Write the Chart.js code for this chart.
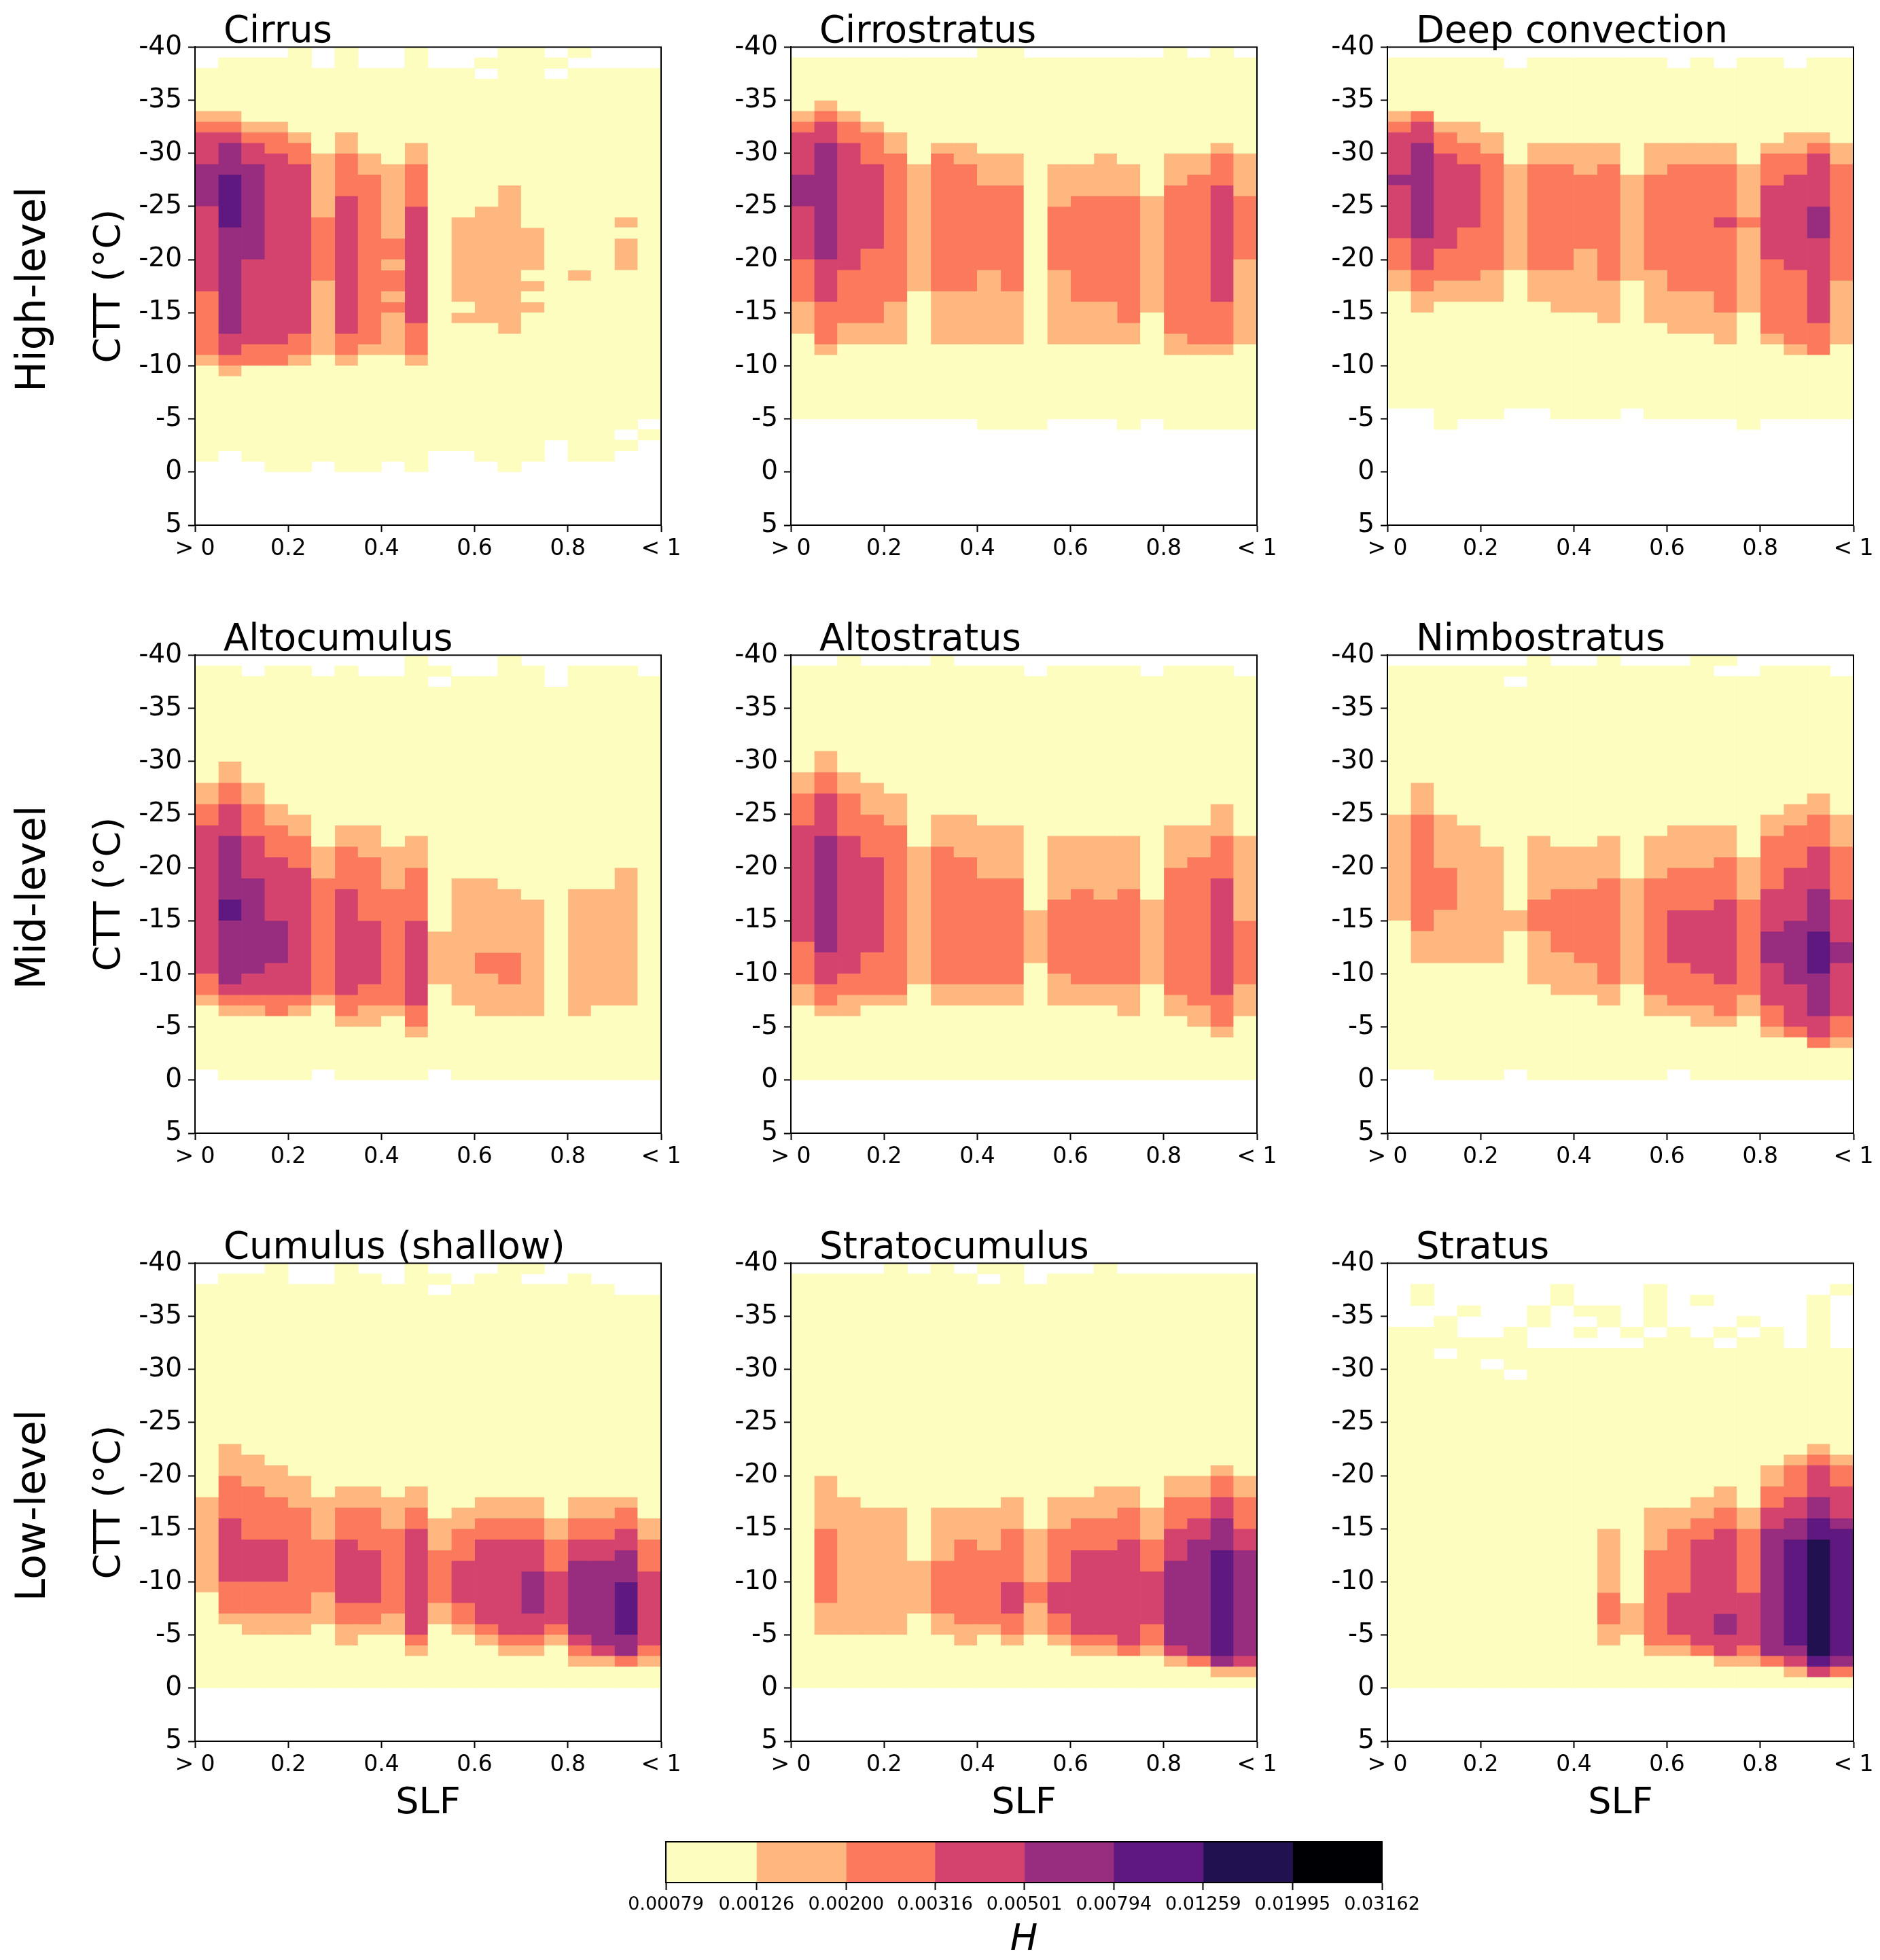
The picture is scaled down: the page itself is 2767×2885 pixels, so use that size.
<!DOCTYPE html>
<html>
<head>
<meta charset="utf-8">
<title>CTT vs SLF</title>
<script src="https://cdn.jsdelivr.net/npm/chart.js@4/dist/chart.umd.js"></script>
<style>
  html, body { margin: 0; padding: 0; background: #fff; }
  #page { position: relative; width: 2767px; height: 2885px; overflow: hidden; font-family: "DejaVu Sans", sans-serif; color: #000; }
  canvas { position: absolute; }
  .panelTitle { position: absolute; font-size: 54.5px; line-height: 1; white-space: nowrap; }
  .rowLabel { position: absolute; font-size: 60px; line-height: 1; white-space: nowrap; transform: translate(-50%, -50%) rotate(-90deg); }
</style>
</head>
<body>
<div id="page"></div>
<script>
// each column (SLF bin) is a list of: CTT where a band starts, band number. band 0 = no data
const cirrus = [
  [-38,1,-34,2,-33,3,-32,4,-29,5,-25,4,-17,3,-11,2,-10,1,-1,0],
  [-39,1,-34,2,-33,3,-32,4,-31,5,-28,6,-23,5,-13,4,-11,3,-10,2,-9,1,-2,0],
  [-39,1,-33,2,-32,3,-31,4,-29,5,-20,4,-12,3,-10,1,-1,0],
  [-39,1,-33,2,-32,3,-30,4,-12,3,-10,1,0,0],
  [-40,1,-32,2,-31,3,-29,4,-13,3,-11,2,-10,1,0,0],
  [-38,1,-30,2,-24,3,-18,2,-11,1,-1,0],
  [-40,1,-32,2,-30,3,-26,4,-13,3,-11,2,-10,1,0,0],
  [-38,1,-30,2,-28,3,-12,2,-11,1,0,0],
  [-38,1,-29,2,-22,3,-20,2,-19,3,-17,2,-16,3,-15,2,-11,1,-1,0],
  [-40,1,-31,2,-29,3,-25,4,-14,3,-11,2,-10,1,0,0],
  [-38,1,-2,0],
  [-38,1,-24,2,-16,1,-15,2,-14,1,-2,0],
  [-39,1,-38,0,-37,1,-25,2,-14,1,-1,0],
  [-40,1,-27,2,-13,1,0,0],
  [-40,1,-23,2,-19,1,-18,2,-17,1,-16,2,-15,1,-1,0],
  [-39,1,-38,0,-37,1,-3,0],
  [-40,1,-39,0,-38,1,-19,2,-18,1,-1,0],
  [-38,1,-1,0],
  [-38,1,-24,2,-23,1,-22,2,-19,1,-4,0,-3,1,-2,0],
  [-38,1,-5,0,-4,1,-3,0]
];
const cirrostratus = [
  [-39,1,-34,2,-33,3,-32,4,-28,5,-25,4,-20,3,-16,2,-13,1,-5,0],
  [-39,1,-35,2,-34,3,-33,4,-31,5,-20,4,-16,3,-12,2,-11,1,-5,0],
  [-39,1,-34,2,-33,3,-31,4,-19,3,-14,2,-12,1,-5,0],
  [-39,1,-33,2,-32,3,-29,4,-21,3,-14,2,-12,1,-5,0],
  [-39,1,-32,2,-30,3,-16,2,-12,1,-5,0],
  [-39,1,-29,2,-17,1,-5,0],
  [-39,1,-31,2,-30,3,-17,2,-12,1,-5,0],
  [-39,1,-31,2,-29,3,-17,2,-12,1,-5,0],
  [-40,1,-30,2,-27,3,-19,2,-12,1,-4,0],
  [-40,1,-30,2,-27,3,-17,2,-12,1,-4,0],
  [-39,1,-4,0],
  [-39,1,-29,2,-25,3,-19,2,-12,1,-5,0],
  [-39,1,-29,2,-26,3,-16,2,-12,1,-5,0],
  [-39,1,-30,2,-26,3,-16,2,-12,1,-5,0],
  [-39,1,-29,2,-26,3,-14,2,-12,1,-4,0],
  [-39,1,-26,2,-15,1,-5,0],
  [-40,1,-30,2,-27,3,-13,2,-11,1,-4,0],
  [-39,1,-30,2,-28,3,-12,2,-11,1,-4,0],
  [-40,1,-31,2,-30,3,-27,4,-16,3,-12,2,-11,1,-4,0],
  [-39,1,-30,2,-26,3,-20,2,-12,1,-4,0]
];
const deepConvection = [
  [-39,1,-34,2,-33,3,-32,4,-28,5,-27,4,-22,3,-19,2,-17,1,-6,0],
  [-39,1,-34,3,-33,4,-31,5,-22,4,-19,3,-17,2,-15,1,-6,0],
  [-39,1,-33,2,-32,3,-30,4,-21,3,-18,2,-16,1,-4,0],
  [-39,1,-33,2,-31,3,-29,4,-23,3,-18,2,-16,1,-5,0],
  [-39,1,-32,2,-30,3,-19,2,-16,1,-5,0],
  [-38,1,-29,2,-19,1,-6,0],
  [-39,1,-31,2,-29,3,-19,2,-16,1,-6,0],
  [-39,1,-31,2,-29,3,-19,2,-15,1,-5,0],
  [-39,1,-31,2,-28,3,-21,2,-15,1,-5,0],
  [-39,1,-31,2,-29,3,-18,2,-14,1,-5,0],
  [-39,1,-28,2,-18,1,-6,0],
  [-39,1,-31,2,-28,3,-19,2,-14,1,-5,0],
  [-38,1,-31,2,-29,3,-17,2,-13,1,-5,0],
  [-39,1,-31,2,-29,3,-17,2,-13,1,-5,0],
  [-38,1,-31,2,-29,3,-24,4,-23,3,-15,2,-12,1,-5,0],
  [-39,1,-29,2,-24,3,-23,2,-15,1,-4,0],
  [-39,1,-31,2,-30,3,-27,4,-20,3,-13,2,-12,1,-5,0],
  [-38,1,-32,2,-30,3,-28,4,-19,3,-12,2,-11,1,-5,0],
  [-39,1,-32,2,-31,3,-30,4,-25,5,-22,4,-14,3,-11,1,-5,0],
  [-39,1,-31,2,-29,3,-18,2,-12,1,-5,0]
];
const altocumulus = [
  [-39,1,-28,2,-26,3,-24,4,-10,3,-8,2,-7,1,-1,0],
  [-39,1,-30,2,-28,3,-26,4,-23,5,-17,6,-15,5,-9,4,-8,3,-7,2,-6,1,0,0],
  [-38,1,-28,2,-26,3,-23,4,-19,5,-10,4,-8,3,-7,2,-6,1,0,0],
  [-39,1,-26,2,-24,3,-21,4,-15,5,-11,4,-8,3,-6,1,0,0],
  [-39,1,-25,2,-23,3,-20,4,-8,3,-7,2,-6,1,0,0],
  [-38,1,-22,2,-19,3,-8,2,-7,1,-1,0],
  [-39,1,-24,2,-22,3,-18,4,-8,3,-6,2,-5,1,0,0],
  [-38,1,-24,2,-21,3,-15,4,-9,3,-7,2,-5,1,0,0],
  [-38,1,-22,2,-18,3,-7,2,-6,1,0,0],
  [-40,1,-23,2,-20,3,-15,4,-7,3,-5,2,-4,1,0,0],
  [-39,1,-38,0,-37,1,-14,2,-9,1,-1,0],
  [-38,1,-19,2,-7,1,0,0],
  [-38,1,-19,2,-12,3,-10,2,-6,1,0,0],
  [-40,1,-18,2,-12,3,-9,2,-6,1,0,0],
  [-39,1,-17,2,-6,1,0,0],
  [-37,1,0,0],
  [-39,1,-18,2,-6,1,0,0],
  [-39,1,-18,2,-7,1,0,0],
  [-39,1,-20,2,-7,1,0,0],
  [-38,1,0,0]
];
const altostratus = [
  [-39,1,-29,2,-27,3,-24,4,-13,3,-9,2,-7,1,0,0],
  [-39,1,-31,2,-29,3,-27,4,-23,5,-12,4,-9,3,-7,2,-6,1,0,0],
  [-40,1,-29,2,-27,3,-23,4,-10,3,-8,2,-6,1,0,0],
  [-39,1,-28,2,-25,3,-21,4,-12,3,-8,2,-7,1,0,0],
  [-39,1,-27,2,-24,3,-8,2,-7,1,0,0],
  [-39,1,-22,2,-9,1,0,0],
  [-40,1,-25,2,-22,3,-9,2,-7,1,0,0],
  [-39,1,-25,2,-21,3,-9,2,-7,1,0,0],
  [-39,1,-24,2,-19,3,-9,2,-7,1,0,0],
  [-39,1,-24,2,-19,3,-9,2,-7,1,0,0],
  [-38,1,-16,2,-11,1,0,0],
  [-39,1,-23,2,-17,3,-10,2,-7,1,0,0],
  [-39,1,-23,2,-18,3,-9,2,-7,1,0,0],
  [-39,1,-23,2,-17,3,-9,2,-7,1,0,0],
  [-39,1,-23,2,-18,3,-9,2,-6,1,0,0],
  [-38,1,-17,2,-9,1,0,0],
  [-39,1,-24,2,-20,3,-8,2,-6,1,0,0],
  [-39,1,-24,2,-21,3,-7,2,-5,1,0,0],
  [-39,1,-26,2,-23,3,-19,4,-8,3,-5,2,-4,1,0,0],
  [-38,1,-23,2,-15,3,-9,2,-6,1,0,0]
];
const nimbostratus = [
  [-39,1,-25,2,-15,1,-1,0],
  [-39,1,-28,2,-25,3,-14,2,-11,1,-1,0],
  [-39,1,-25,2,-20,3,-16,2,-11,1,0,0],
  [-39,1,-24,2,-11,1,0,0],
  [-39,1,-22,2,-11,1,0,0],
  [-39,1,-38,0,-37,1,-16,2,-14,1,-1,0],
  [-40,1,-23,2,-17,3,-14,2,-9,1,0,0],
  [-39,1,-22,2,-18,3,-12,2,-8,1,0,0],
  [-39,1,-22,2,-18,3,-11,2,-8,1,0,0],
  [-40,1,-23,2,-19,3,-9,2,-7,1,0,0],
  [-39,1,-19,2,-9,1,0,0],
  [-39,1,-23,2,-19,3,-8,2,-6,1,0,0],
  [-39,1,-24,2,-20,3,-16,4,-11,3,-7,2,-6,1,-1,0],
  [-40,1,-24,2,-20,3,-16,4,-10,3,-7,2,-5,1,0,0],
  [-40,1,-39,0,-38,1,-24,2,-21,3,-17,4,-9,3,-6,2,-5,1,0,0],
  [-38,1,-21,2,-17,3,-8,2,-6,1,0,0],
  [-39,1,-25,2,-23,3,-18,4,-14,5,-11,4,-7,3,-5,2,-4,1,0,0],
  [-39,1,-26,2,-24,3,-20,4,-15,5,-9,4,-5,3,-4,1,0,0],
  [-39,1,-27,2,-25,3,-22,4,-18,5,-14,6,-10,5,-6,4,-4,3,-3,1,0,0],
  [-38,1,-25,2,-22,3,-17,4,-13,5,-11,4,-6,3,-4,2,-3,1,0,0]
];
const cumulusShallow = [
  [-38,1,-18,2,-9,1,0,0],
  [-39,1,-23,2,-20,3,-16,4,-10,3,-7,2,-6,1,0,0],
  [-39,1,-22,2,-19,3,-14,4,-10,3,-7,2,-5,1,0,0],
  [-40,1,-21,2,-18,3,-14,4,-10,3,-7,2,-5,1,0,0],
  [-38,1,-20,2,-17,3,-7,2,-5,1,0,0],
  [-38,1,-18,2,-14,3,-9,2,-6,1,0,0],
  [-40,1,-19,2,-17,3,-14,4,-8,3,-6,2,-4,1,0,0],
  [-39,1,-19,2,-17,3,-13,4,-8,3,-6,2,-5,1,0,0],
  [-38,1,-18,2,-15,3,-7,2,-5,1,0,0],
  [-40,1,-19,2,-17,3,-15,4,-5,3,-4,2,-3,1,0,0],
  [-39,1,-38,0,-37,1,-16,2,-13,3,-8,2,-6,1,0,0],
  [-38,1,-17,2,-15,3,-12,4,-8,3,-6,2,-5,1,0,0],
  [-39,1,-18,2,-16,3,-14,4,-6,3,-5,2,-4,1,0,0],
  [-40,1,-18,2,-16,3,-14,4,-5,3,-4,2,-3,1,0,0],
  [-40,1,-39,0,-38,1,-18,2,-16,3,-14,4,-11,5,-7,4,-5,3,-4,2,-3,1,0,0],
  [-38,1,-16,2,-14,3,-11,4,-6,3,-5,2,-4,1,0,0],
  [-39,1,-18,2,-16,3,-14,4,-12,5,-5,4,-4,3,-3,2,-2,1,0,0],
  [-38,1,-18,2,-16,3,-14,4,-12,5,-4,4,-3,2,-2,1,0,0],
  [-37,1,-18,2,-17,3,-15,4,-13,5,-10,6,-5,5,-3,3,-2,1,0,0],
  [-37,1,-16,2,-14,3,-11,4,-4,3,-3,2,-2,1,0,0]
];
const stratocumulus = [
  [-39,1,0,0],
  [-39,1,-20,2,-15,3,-8,2,-5,1,0,0],
  [-39,1,-18,2,-5,1,0,0],
  [-39,1,-17,2,-5,1,0,0],
  [-40,1,-17,2,-5,1,0,0],
  [-39,1,-12,2,-7,1,0,0],
  [-40,1,-17,2,-12,3,-7,2,-5,1,0,0],
  [-39,1,-17,2,-14,3,-6,2,-4,1,0,0],
  [-40,1,-39,0,-38,1,-17,2,-13,3,-6,2,-5,1,0,0],
  [-40,1,-18,2,-15,3,-10,4,-7,3,-5,2,-4,1,0,0],
  [-38,1,-15,2,-10,3,-8,2,-5,1,0,0],
  [-39,1,-18,2,-15,3,-10,4,-7,3,-5,2,-4,1,0,0],
  [-39,1,-18,2,-16,3,-13,4,-5,3,-4,2,-3,1,0,0],
  [-40,1,-19,2,-16,3,-13,4,-5,3,-4,2,-3,1,0,0],
  [-39,1,-19,2,-17,3,-14,4,-4,3,-3,1,0,0],
  [-39,1,-17,2,-14,3,-11,4,-6,3,-4,2,-3,1,0,0],
  [-39,1,-20,2,-18,3,-15,4,-12,5,-4,4,-3,2,-2,1,0,0],
  [-39,1,-20,2,-18,3,-16,4,-14,5,-3,3,-2,1,0,0],
  [-39,1,-21,2,-20,3,-18,4,-16,5,-13,6,-3,5,-2,2,-1,1,0,0],
  [-39,1,-20,2,-18,3,-15,4,-13,5,-3,4,-2,2,-1,1,0,0]
];
const stratus = [
  [-34,1,0,0],
  [-38,1,-36,0,-34,1,0,0],
  [-35,1,-32,0,-31,1,0,0],
  [-36,1,-35,0,-33,1,0,0],
  [-33,1,-31,0,-30,1,0,0],
  [-34,1,-30,0,-29,1,0,0],
  [-36,1,-34,0,-32,1,0,0],
  [-38,1,-36,0,-32,1,0,0],
  [-36,1,-35,0,-34,1,-33,0,-32,1,0,0],
  [-36,1,-34,0,-32,1,-15,2,-9,3,-6,2,-4,1,0,0],
  [-34,1,-33,0,-32,1,-8,2,-5,1,0,0],
  [-38,1,-34,0,-33,1,-17,2,-13,3,-4,2,-3,1,0,0],
  [-34,1,-17,2,-15,3,-9,4,-5,3,-4,2,-3,1,0,0],
  [-37,1,-36,0,-33,1,-18,2,-16,3,-14,4,-4,3,-3,1,0,0],
  [-34,1,-33,0,-32,1,-19,2,-17,3,-15,4,-7,5,-5,4,-3,2,-2,1,0,0],
  [-35,1,-34,0,-33,1,-17,2,-15,3,-9,4,-4,3,-3,2,-2,1,0,0],
  [-34,1,-21,2,-19,3,-17,4,-15,5,-3,3,-2,1,0,0],
  [-32,1,-22,2,-21,3,-18,4,-16,5,-14,6,-4,5,-3,4,-2,2,-1,1,0,0],
  [-37,1,-23,2,-22,3,-21,4,-18,5,-16,6,-14,7,-3,6,-2,4,-1,1,0,0],
  [-38,1,-37,0,-32,1,-22,2,-21,3,-19,4,-16,5,-15,6,-3,5,-2,3,-1,1,0,0]
];

const panelTitles = ["Cirrus", "Cirrostratus", "Deep convection", "Altocumulus", "Altostratus", "Nimbostratus", "Cumulus (shallow)", "Stratocumulus", "Stratus"];
const panelData = [cirrus, cirrostratus, deepConvection, altocumulus, altostratus, nimbostratus, cumulusShallow, stratocumulus, stratus];
const rowLabels = ["High-level", "Mid-level", "Low-level"];
const bandEdges = [0.00079, 0.00126, 0.002, 0.00316, 0.00501, 0.00794, 0.01259, 0.01995, 0.03162];
const bandColors = ["#fcfdbf", "#feb87f", "#fb7a5d", "#d3436e", "#982d80", "#5f187f", "#221150", "#000004"];

const panelLefts = [287, 1164, 2042];
const panelTops = [67, 962, 1857];
const panelW = 686, panelH = 706;
const binWidth = 0.05;

const page = document.getElementById("page");
const fontName = "'DejaVu Sans', sans-serif";

// closes the axes box, chart.js only draws the left and bottom lines
const framePlugin = {
  id: "frame",
  afterDraw(chart) {
    const a = chart.chartArea, c = chart.ctx;
    c.save();
    c.strokeStyle = "#000";
    c.lineWidth = 2;
    c.strokeRect(a.left, a.top, a.right - a.left, a.bottom - a.top);
    c.restore();
  }
};

function addCanvas(left, top, w, h) {
  const cv = document.createElement("canvas");
  cv.width = w;
  cv.height = h;
  cv.style.left = left + "px";
  cv.style.top = top + "px";
  cv.style.width = w + "px";
  cv.style.height = h + "px";
  page.appendChild(cv);
  return cv;
}

// one dataset per band, each run in a column is a floating bar
function columnsToDatasets(columns) {
  const datasets = bandColors.map(function (color) {
    return { data: [], backgroundColor: color, grouped: false, barPercentage: 1, categoryPercentage: 1, borderWidth: 0 };
  });
  columns.forEach(function (steps, col) {
    for (let i = 0; i + 2 < steps.length; i += 2) {
      const band = steps[i + 1];
      if (band > 0) {
        datasets[band - 1].data.push({ x: (col + 0.5) * binWidth, y: [steps[i], steps[i + 2]] });
      }
    }
  });
  return datasets.filter(function (d) { return d.data.length > 0; });
}

function drawPanel(index) {
  const col = index % 3, row = Math.floor(index / 3);
  const ctx = addCanvas(panelLefts[col] - 160, panelTops[row] - 30, 906, 860);
  new Chart(ctx, {
    type: "bar",
    data: { datasets: columnsToDatasets(panelData[index]) },
    plugins: [framePlugin],
    options: {
      responsive: false,
      animation: false,
      layout: { padding: { left: 0, right: 60, top: 30, bottom: 0 } },
      plugins: { legend: { display: false }, tooltip: { enabled: false }, title: { display: false } },
      scales: {
        x: {
          type: "linear",
          min: 0,
          max: 1,
          offset: false,
          afterFit: function (s) { s.height = 124; },
          grid: { offset: false, drawOnChartArea: false, tickLength: 10, tickWidth: 2, tickColor: "#000" },
          border: { color: "#000", width: 2 },
          ticks: {
            stepSize: 0.2,
            autoSkip: false,
            maxRotation: 0,
            padding: 6,
            color: "#000",
            font: { family: fontName, size: 33 },
            callback: function (v) {
              if (v === 0) return "> 0";
              if (v === 1) return "< 1";
              return v.toFixed(1);
            }
          },
          title: { display: row === 2, text: "SLF", color: "#000", font: { family: fontName, size: 54 }, padding: 0 }
        },
        y: {
          reverse: true,
          min: -40,
          max: 5,
          afterFit: function (s) { s.width = 160; },
          grid: { drawOnChartArea: false, tickLength: 10, tickWidth: 2, tickColor: "#000" },
          border: { color: "#000", width: 2 },
          ticks: { stepSize: 5, padding: 9, color: "#000", font: { family: fontName, size: 39 }, callback: function (v) { return String(v); } },
          title: { display: col === 0, text: "CTT (°C)", color: "#000", font: { family: fontName, size: 54 }, padding: { top: 3, bottom: 0 } }
        }
      }
    }
  });
  const t = document.createElement("div");
  t.className = "panelTitle";
  t.textContent = panelTitles[index];
  t.style.left = (panelLefts[col] + 42) + "px";
  t.style.top = (panelTops[row] - 51) + "px";
  page.appendChild(t);
}

function drawColorbar() {
  const ctx = addCanvas(880, 2700, 1255, 185);
  const datasets = bandColors.map(function (color, i) {
    return {
      data: [{ x: [bandEdges[i], bandEdges[i + 1]], y: "" }],
      backgroundColor: color,
      grouped: false,
      barPercentage: 1,
      categoryPercentage: 1,
      borderWidth: 0
    };
  });
  new Chart(ctx, {
    type: "bar",
    data: { labels: [""], datasets: datasets },
    plugins: [framePlugin],
    options: {
      indexAxis: "y",
      responsive: false,
      animation: false,
      layout: { padding: { left: 100, right: 101, top: 11, bottom: 0 } },
      plugins: { legend: { display: false }, tooltip: { enabled: false } },
      scales: {
        y: { display: false },
        x: {
          type: "logarithmic",
          min: bandEdges[0],
          max: bandEdges[bandEdges.length - 1],
          afterFit: function (s) { s.height = 114; },
          afterBuildTicks: function (s) { s.ticks = bandEdges.map(function (v) { return { value: v }; }); },
          grid: { drawOnChartArea: false, tickLength: 11, tickWidth: 2, tickColor: "#000" },
          border: { color: "#000", width: 2 },
          ticks: {
            autoSkip: false,
            maxRotation: 0,
            padding: 6,
            color: "#000",
            font: { family: fontName, size: 27 },
            callback: function (v) { return Number(v).toFixed(5); }
          },
          title: { display: true, text: "H", color: "#000", font: { family: fontName, size: 54, style: "italic", lineHeight: 1.08 }, padding: 0 }
        }
      }
    }
  });
}

panelData.forEach(function (d, i) { drawPanel(i); });
drawColorbar();

rowLabels.forEach(function (label, row) {
  const el = document.createElement("div");
  el.className = "rowLabel";
  el.textContent = label;
  el.style.left = "45px";
  el.style.top = (panelTops[row] + panelH / 2 + 6) + "px";
  page.appendChild(el);
});
</script>
</body>
</html>
